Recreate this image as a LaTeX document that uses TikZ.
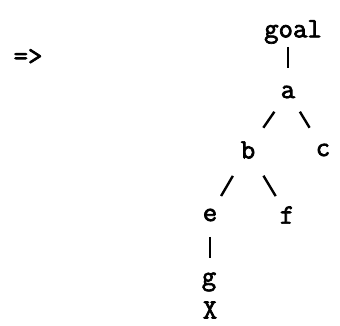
\documentclass[tikz,border=0pt]{standalone}
\usepackage{fontspec}
\newfontfamily\typewfont{Latin Modern Mono}[AutoFakeBold=2.5]
\usepackage{tikz}

\begin{document}
\begin{tikzpicture}[x=1pt, y=1pt,
  letter/.style={inner sep=0pt, font=\typewfont\bfseries\fontsize{28}{28}\selectfont},
  bar/.style={line width=2.4pt}]
  \useasboundingbox (0,0) rectangle (340,326);

  \node[letter] (arrow) at (28,269) {=>};

  \node[letter] (goal) at (293,294) {goal};
  \node[letter] (a) at (288,234) {a};
  \node[letter] (b) at (248,176) {b};
  \node[letter] (c) at (323,176) {c};
  \node[letter] (e) at (210,111) {e};
  \node[letter] (f) at (287,111) {f};
  \node[letter] (g) at (209,44) {g};
  \node[letter] (x) at (210,16) {X};

  \draw[bar, shorten <=15pt, shorten >=24pt] (goal.center -| a.center) -- (a.center);
  \draw[bar, shorten <=24pt, shorten >=27pt] (a.center) -- (b.center);
  \draw[bar, shorten <=23pt, shorten >=26pt] (a.center) -- (c.center);
  \draw[bar, shorten <=30pt, shorten >=22pt] (b.center) -- (e.center);
  \draw[bar, shorten <=30pt, shorten >=22pt] (b.center) -- (f.center);
  \draw[bar, shorten <=22pt, shorten >=24pt] (e.center) -- (g.center -| e.center);
\end{tikzpicture}
\end{document}
